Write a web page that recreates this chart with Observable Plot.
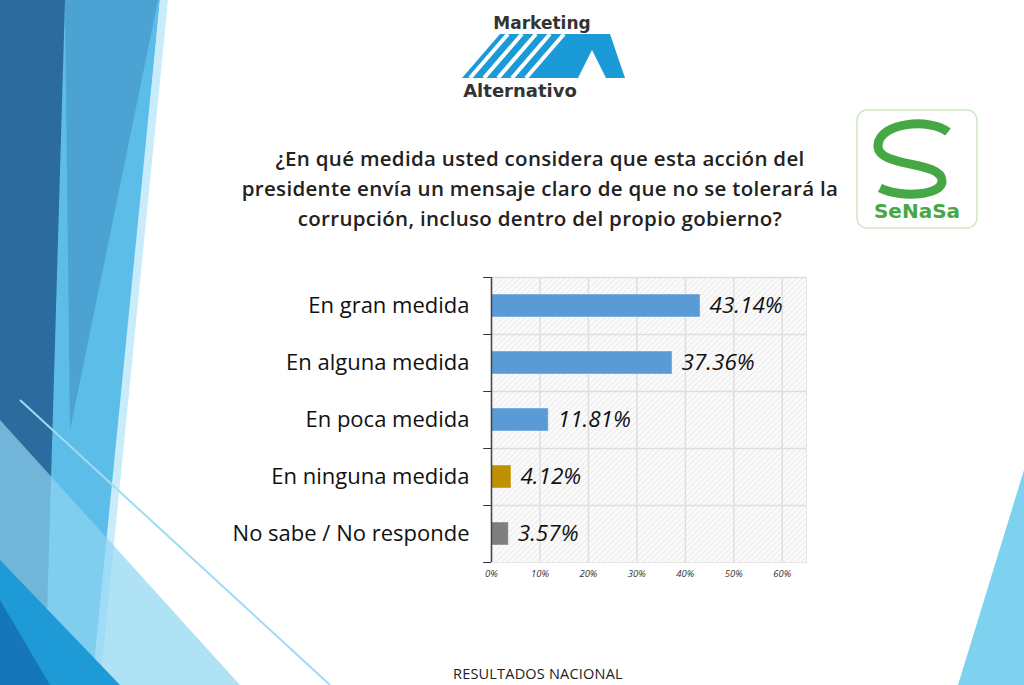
<!DOCTYPE html>
<html><head><meta charset="utf-8">
<script src="https://cdn.jsdelivr.net/npm/d3@7"></script>
<script src="https://cdn.jsdelivr.net/npm/@observablehq/plot@0.6"></script>
<style>
body{margin:0;background:#fff;}
#page{position:relative;width:1024px;height:685px;overflow:hidden;background:#fff;font-family:"Open Sans",sans-serif;}
#bg{position:absolute;left:0;top:0;}
#title{position:absolute;left:150px;width:780px;top:143px;text-align:center;font-size:20.5px;font-weight:600;line-height:30px;color:#222;letter-spacing:0.3px;}
#foot{position:absolute;left:453px;top:664px;font-size:14.5px;color:#222;letter-spacing:0.2px;}
#chart{position:absolute;left:0;top:270px;}
</style></head><body>
<div id="page">
<svg id="bg" width="1024" height="685">
  <polygon points="0,0 160,0 95,685 0,685" fill="#5cbde8"/>
  <polygon points="0,0 65,0 45,685 0,685" fill="#2c6b9d"/>
  <polygon points="65,0 158,0 70,430" fill="#3f8fc4" opacity="0.6"/>
  <polygon points="160,0 168,0 100,685 92,685" fill="#c8ecfa"/>
  <polygon points="0,420 240,685 0,685" fill="#8fd6f2" opacity="0.7"/>
  <polygon points="0,560 120,685 0,685" fill="#1e9ad6"/>
  <polygon points="0,600 50,685 0,685" fill="#1577b8"/>
  <line x1="20" y1="400" x2="330" y2="685" stroke="#9fdcf4" stroke-width="2"/>
  <polygon points="1024,470 1024,685 958,685" fill="#7fd1f0"/>
  <text x="542" y="29" text-anchor="middle" font-family="DejaVu Sans" font-weight="bold" font-size="17" fill="#333">Marketing</text>
  <polygon points="462,78 500,34 610,34 625,78" fill="#1b9ad8"/>
  <g stroke="#fff" stroke-width="4">
    <line x1="470" y1="78" x2="508" y2="34"/><line x1="484" y1="78" x2="522" y2="34"/>
    <line x1="498" y1="78" x2="536" y2="34"/><line x1="512" y1="78" x2="550" y2="34"/>
    <line x1="526" y1="78" x2="564" y2="34"/>
  </g>
  <polygon points="578,78 592,50 606,78" fill="#fff"/>
  <text x="520" y="97" text-anchor="middle" font-family="DejaVu Sans" font-weight="bold" font-size="18" fill="#333">Alternativo</text>
  <rect x="857" y="110" width="120" height="118" rx="10" fill="#fff" stroke="#cfe8c8" stroke-width="1.5"/>
  <path d="M948,132 C930,118 880,122 878,145 C876,168 940,160 942,180 C944,196 900,198 880,188" fill="none" stroke="#45a845" stroke-width="9"/>
  <text x="917" y="218" text-anchor="middle" font-family="DejaVu Sans" font-weight="bold" font-size="20" fill="#45a845">SeNaSa</text>
</svg>
<div id="title">¿En qué medida usted considera que esta acción del<br>presidente envía un mensaje claro de que no se tolerará la<br>corrupción, incluso dentro del propio gobierno?</div>
<div id="chart"></div>
<div id="foot">RESULTADOS NACIONAL</div>
</div>
<script>
const categories = ["En gran medida","En alguna medida","En poca medida","En ninguna medida","No sabe / No responde"];
const values = [43.14, 37.36, 11.81, 4.12, 3.57];
const colors = ["#5b9bd5","#5b9bd5","#5b9bd5","#bf9000","#7f7f7f"];
const xTicks = [0,10,20,30,40,50,60];
const data = categories.map((c,i)=>({c, v: values[i], col: colors[i]}));

const defs = () => {
  const d = d3.create("svg:defs");
  const p = d.append("pattern").attr("id","hatch").attr("width",4).attr("height",4)
    .attr("patternUnits","userSpaceOnUse").attr("patternTransform","rotate(45)");
  p.append("rect").attr("width",4).attr("height",4).attr("fill","#fafafa");
  p.append("line").attr("x1",0).attr("y1",0).attr("x2",0).attr("y2",4).attr("stroke","#e4e4e4").attr("stroke-width",1.2);
  return d.node();
};

const chart = Plot.plot({
  width: 820, height: 320,
  marginLeft: 491, marginRight: 14, marginTop: 7, marginBottom: 28,
  x: {domain: [0, 65], ticks: xTicks, tickFormat: d => d + "%", label: null},
  y: {domain: categories, paddingInner: 0.6, paddingOuter: 0.3, label: null},
  style: {fontFamily: "Open Sans, sans-serif", background: "transparent"},
  marks: [
    defs,
    Plot.frame({fill: "url(#hatch)", stroke: "#e6e6e6"}),
    Plot.gridX(xTicks, {stroke: "#dedede", strokeOpacity: 1, strokeWidth: 1.5}),
    Plot.ruleY(categories, {y: d => d, dy: -28.5, stroke: "#dedede", strokeWidth: 1.5}),
    Plot.ruleY(categories, {y: d => d, dy: -28.5, x1: -1.6, x2: 0, stroke: "#333"}),
    Plot.ruleY([categories[4]], {y: d => d, dy: 28.5, x1: -1.6, x2: 0, stroke: "#333"}),
    Plot.barX(data, {y: "c", x: "v", fill: "col", stroke: "#fff", strokeOpacity: 0.4}),
    Plot.ruleX([0], {stroke: "#444", strokeWidth: 1.5}),
    Plot.text(data, {y: "c", x: "v", text: d => d.v.toFixed(2) + "%", dx: 9, textAnchor: "start",
      fontSize: 22.5, fontStyle: "italic", fill: "#111"}),
    Plot.axisY({tickSize: 0, tickPadding: 22, fontSize: 22, fill: "#111"}),
    Plot.axisX(xTicks, {tickSize: 0, tickPadding: 8, fontSize: 9.5, fontStyle: "italic", fill: "#333", tickFormat: d => d + "%"})
  ]
});
document.getElementById("chart").appendChild(chart);
</script>
</body></html>
